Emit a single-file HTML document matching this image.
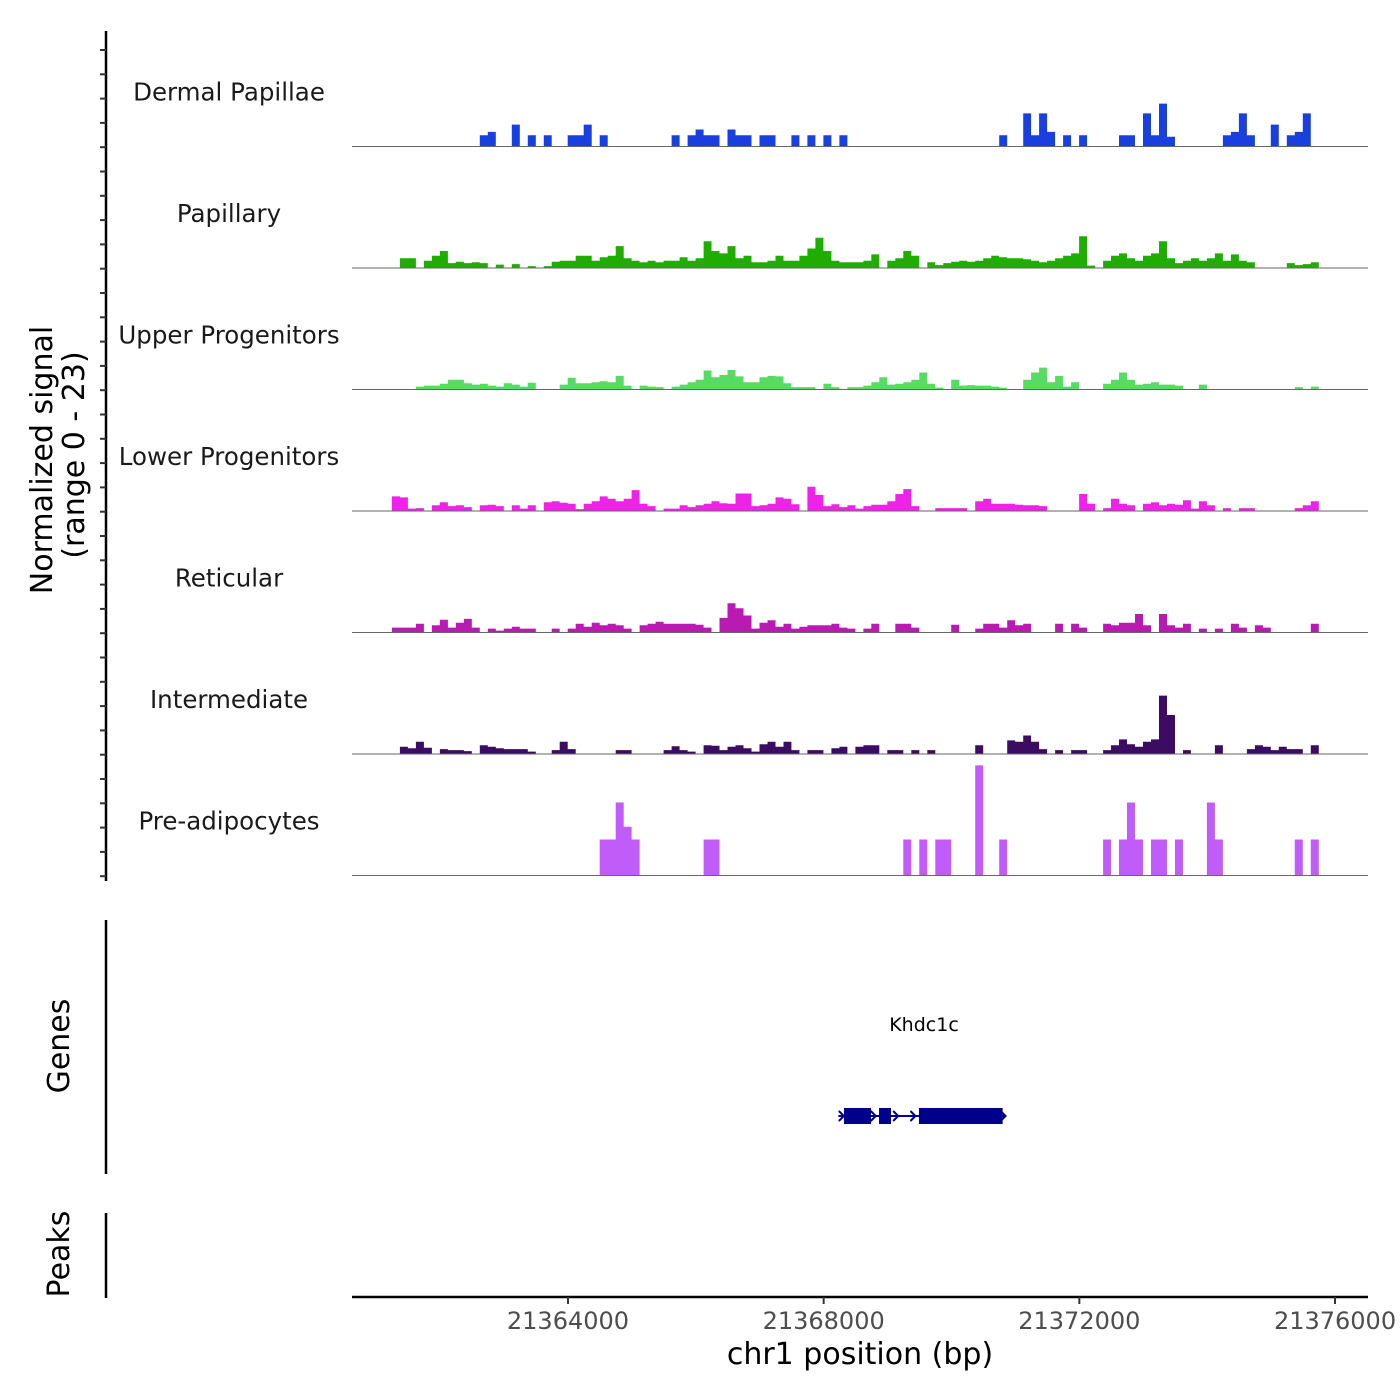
<!DOCTYPE html>
<html><head><meta charset="utf-8">
<style>
html,body{margin:0;padding:0;background:#fff;}
svg{display:block;font-family:"DejaVu Sans","Liberation Sans",sans-serif;}
</style></head>
<body>
<svg id="chart" width="1400" height="1400" viewBox="0 0 1400 1400" xmlns="http://www.w3.org/2000/svg">
  <rect width="1400" height="1400" fill="#fff"/>
  <g id="yaxis"></g>
  <text transform="translate(52,460) rotate(-90)" text-anchor="middle" font-size="30" fill="#000">Normalized signal</text>
  <text transform="translate(84,455) rotate(-90)" text-anchor="middle" font-size="30" fill="#000">(range 0 - 23)</text>
  <g id="tracks"></g>
  <line x1="106" y1="920" x2="106" y2="1174" stroke="#000" stroke-width="2.5"/>
  <text transform="translate(69,1046) rotate(-90)" text-anchor="middle" font-size="30">Genes</text>
  <line x1="106" y1="1213" x2="106" y2="1298" stroke="#000" stroke-width="2.5"/>
  <text transform="translate(69,1254) rotate(-90)" text-anchor="middle" font-size="30">Peaks</text>
  <g id="gene"></g>
  <g id="xaxis"></g>
  <text x="860" y="1364" text-anchor="middle" font-size="30">chr1 position (bp)</text>
</svg>
<script>
const NS="http://www.w3.org/2000/svg";
const X0=21360621, X1=21376516, BIN=125;
const xTicks=[21364000,21368000,21372000,21376000];
const trackNames=["Dermal Papillae","Papillary","Upper Progenitors","Lower Progenitors","Reticular","Intermediate","Pre-adipocytes"];
const trackColors=["#1a3fdf","#1fae00","#57db62","#ef22e8","#b91bb2","#3c0b62","#c05cf8"];
const dermalVals=[0,0,0,0,0,0,0,0,0,0, 0,0,0,0,0,0,2.3,3,0,0, 4.5,0,2.3,0,2.3,0,0,2.3,2.3,4.5, 0,2.3,0,0,0,0,0,0,0,0, 2.3,0,2.3,3.5,2.3,2.3,0,3.5,2.3,2.3, 0,2.3,2.3,0,0,2.3,0,2.3,0,2.3, 0,2.3,0,0,0,0,0,0,0,0, 0,0,0,0,0,0,0,0,0,0, 0,2.3,0,0,6.8,2.3,6.8,3,0,2.3, 0,2.3,0,0,0,0,2.3,2.3,0,6.8, 2.3,8.8,2,0,0,0,0,0,0,2.3, 3,6.8,2.3,0,0,4.5,0,2.3,3,6.8,0];
const papillaryVals=[0,0,0,0,0,0,2,2,0,1.5, 2.5,3.5,1,1.3,1,1.2,1,0,0.7,0, 0.8,0,0.4,0,0.4,1.3,1.5,1.5,2.5,2.5, 1.5,2.2,2.5,4.5,2,1.5,1.2,1.5,1.2,1.5, 1.5,2.2,1.5,2,5.5,3.5,3,4.5,2,2.5, 1.2,1.2,1.5,2.5,1.5,1.5,2.5,4,6.2,3.5, 1.5,1.2,1.2,1.2,1.5,2.8,0,1.5,2,3.5, 2.5,0,1.2,0.6,1,1.3,1.5,1.3,1.5,2, 2.5,2.2,2,2,1.8,1.5,1.2,1.5,2,2.5, 3,6.5,0.5,0,1.5,2.5,3,2,1.5,2.5, 3,5.5,2,1,1.5,2,1.5,2,3,1.5, 2.8,1.5,1.2,0,0,0,0,1,0.6,0.8,1.2];
const upperVals=[0,0,0,0,0,0,0,0,0.6,0.8, 0.8,1.2,2,2,1.3,1,1.2,0.8,0.6,1.3, 1,0.6,1.4,0,0,0,1,2.4,1.3,1.3, 1.5,1.7,1.5,2.8,0.8,0,0.8,0.6,0.5,0, 0.6,1,1.5,2,3.9,2.5,3,4,2.7,1.5, 1.5,2.5,2.8,2.7,1.3,0.5,0.5,0.5,0,1.2, 0.5,0,0.5,0.5,0.8,1.5,2.5,1,1.2,1.5, 2,3.5,1.2,0.4,0,2,0.8,0.9,0.8,0.8, 0.6,0.4,0,0,2,3.5,4.5,1.5,2.8,0.6, 1.5,0,0,0,1.2,2,3.5,2,1,1.2, 1.5,1,1,0.8,0,0,1,0,0,0, 0,0,0,0,0,0,0,0,0.5,0,0.6];
const lowerVals=[0,0,0,0,0,3,2.8,0.5,0.6,0, 1.2,1.8,1,1.2,0.8,0,1.2,1.3,1,0, 1.2,0.5,1.2,0,1.8,2,1.7,1.5,0.4,1.5, 2,3,2.5,2,2.5,4.3,1.5,1,0,0.5, 0.5,1.2,0.8,1.2,1.5,2,1.6,1.5,3.6,3.6, 1,1.2,1.5,2.8,2.5,1.4,0,5,3.3,1, 1.4,0.8,1.2,0.5,1,1.3,1.3,2,3.5,4.5, 1,0,0,0.6,0.6,0.6,0.6,0,2,2.5, 1.5,1.5,1.5,1.3,1.2,1.2,1,0,0,0, 0,3.5,1.5,0,0.6,2.5,1.5,1.2,0,1.5, 1.8,1.2,1.5,1.3,2.2,0.5,2,1.2,0,0.6, 0,0.6,0.6,0,0,0,0,0,0.6,1.2,2];
const reticularVals=[0,0,0,0,0,1,1,1,1.8,0, 1.5,2.6,1,2,2.8,1,0,0.8,0.4,0.8, 1.2,0.8,0.8,0,0,0.8,0,0.8,1.8,1.2, 2,1.5,1.8,1.5,0.8,0,1.5,1.8,2.2,1.8, 1.8,1.8,1.8,1.6,1,0,3,6,5,3.5, 0.8,2,2.5,1.2,1.8,0.8,1.2,1.5,1.5,1.5, 1.8,1,0.8,0,0.8,1.8,0,0,1.8,1.8, 1,0,0,0,0,1.6,0,0,0.8,1.8, 1.8,1,2.5,1.5,1.8,0,0,0,1.8,0, 1.8,1,0,0,1.8,1.5,2,2,3.8,1.5, 0,3.8,1.5,1,1.8,0,0.8,0,0.8,0, 1.8,1,0,1.5,1,0,0,0,0,0,1.8];
const intermediateVals=[0,0,0,0,0,0,1.5,1.2,2.5,1.3, 0,1,0.8,0.8,0.6,0,1.8,1.5,1.2,1, 1,1,0.5,0,0,0.8,2.5,1,0,0, 0,0,0,0.8,0.8,0,0,0,0,0.8, 1.6,0.8,0.5,0,1.8,1.7,0.8,1.5,1.8,1.2, 0.5,2,2.5,1.5,2.5,0.8,0,0.8,0.8,0, 1.2,1.5,0,1.5,1.8,1.8,0,0.8,0.8,0, 0.8,0,0.8,0,0,0,0,0,1.8,0, 0,0,2.8,2.5,3.8,2.5,1,0,0.8,0, 0.8,0.8,0,0,0.8,1.8,3,2,1.5,2.5, 3,12,8,0,0.8,0,0,0,1.8,0, 0,0,1,1.8,1.5,0.8,1.5,1,1,0,1.8];
const preadipoVals=[0,0,0,0,0,0,0,0,0,0, 0,0,0,0,0,0,0,0,0,0, 0,0,0,0,0,0,0,0,0,0, 0,7.4,7.4,15,10,7.4,0,0,0,0, 0,0,0,0,7.4,7.4,0,0,0,0, 0,0,0,0,0,0,0,0,0,0, 0,0,0,0,0,0,0,0,0,7.4, 0,7.4,0,7.4,7.4,0,0,0,22.6,0, 0,7.4,0,0,0,0,0,0,0,0, 0,0,0,0,7.4,0,7.4,15,7.4,0, 7.4,7.4,0,7.4,0,0,0,15,7.4,0, 0,0,0,0,0,0,0,0,7.4,0,7.4];
const trackValues=[dermalVals,papillaryVals,upperVals,lowerVals,reticularVals,intermediateVals,preadipoVals];
const geneStart=21368230, geneEnd=21370830;
const exonStarts=[21368318,21368866,21369491];
const exonEnds=[21368741,21369054,21370800];
const arrowPos=[21368300,21368800,21369150,21369420,21370830];

const PX0=352,PX1=1368;
function xScale(bp){return PX0+(bp-X0)*(PX1-PX0)/(X1-X0);}
const TRACK_TOP=25, TRACK_H=121.5, YMAX=23, YPX=112;
function baseY(t){return TRACK_TOP+TRACK_H*(t+1);}
function yScale(t,v){return baseY(t)-v/YMAX*YPX;}

function mk(tag,attrs,parent){const e=document.createElementNS(NS,tag);for(const k in attrs)e.setAttribute(k,attrs[k]);parent.appendChild(e);return e;}

const ya=document.getElementById('yaxis');
const yl=mk('line',{x1:106,y1:31,x2:106,y2:881,stroke:'#000','stroke-width':2.5},ya);


for(let k=0;k<35;k++){
  const y=50+k*24.3;
  const tk=mk('line',{x1:100,y1:y,x2:106,y2:y,stroke:'#333','stroke-width':2},ya);
  
  
}

const tg=document.getElementById('tracks');
trackValues.forEach((vals,t)=>{
  const g=mk('g',{},tg);
  
  
  const b=baseY(t);
  let d='M'+xScale(X0).toFixed(1)+' '+b;
  vals.forEach((v,i)=>{
    const xa=xScale(X0+i*BIN), xb=xScale(X0+(i+1)*BIN), y=yScale(t,v);
    d+=' L'+xa.toFixed(1)+' '+y.toFixed(1)+' L'+xb.toFixed(1)+' '+y.toFixed(1);
  });
  d+=' L'+xScale(X0+vals.length*BIN).toFixed(1)+' '+b+' Z';
  const p=mk('path',{d:d,fill:trackColors[t],stroke:'none'},g);
  
  
  const bl=mk('line',{x1:PX0,y1:b,x2:PX1,y2:b,stroke:'#666','stroke-width':1},g);
  
  
  const lab=mk('text',{x:229,y:b-46,'text-anchor':'middle','font-size':'24.5',fill:'#1a1a1a'},g);
  lab.textContent=trackNames[t];
  
  
});

const gg=document.getElementById('gene');
const gy=1116;
const gl=mk('line',{x1:xScale(geneStart),y1:gy,x2:xScale(geneEnd),y2:gy,stroke:'#00008b','stroke-width':2},gg);


arrowPos.forEach(a=>{
  const x=xScale(a);
  const ar=mk('path',{d:'M'+(x-4)+' '+(gy-5)+' L'+(x+1)+' '+gy+' L'+(x-4)+' '+(gy+5),stroke:'#00008b','stroke-width':2,fill:'none'},gg);
  
  
});
exonStarts.forEach((s,i)=>{
  const r=mk('rect',{x:xScale(s),y:1108,width:xScale(exonEnds[i])-xScale(s),height:16,fill:'#00008b'},gg);
  
  
});
const gt=mk('text',{x:924,y:1031,'text-anchor':'middle','font-size':'19',fill:'#000'},gg);
gt.textContent='Khdc1c';



const xa=document.getElementById('xaxis');
const xl=mk('line',{x1:PX0,y1:1297,x2:PX1,y2:1297,stroke:'#000','stroke-width':2.5},xa);


xTicks.forEach(v=>{
  const x=xScale(v);
  const tk=mk('line',{x1:x,y1:1297,x2:x,y2:1304,stroke:'#333','stroke-width':2},xa);
  
  
  const tl=mk('text',{x:x,y:1329,'text-anchor':'middle','font-size':'24',fill:'#4d4d4d'},xa);
  tl.textContent=String(v);
  
  
});
</script>
</body></html>
